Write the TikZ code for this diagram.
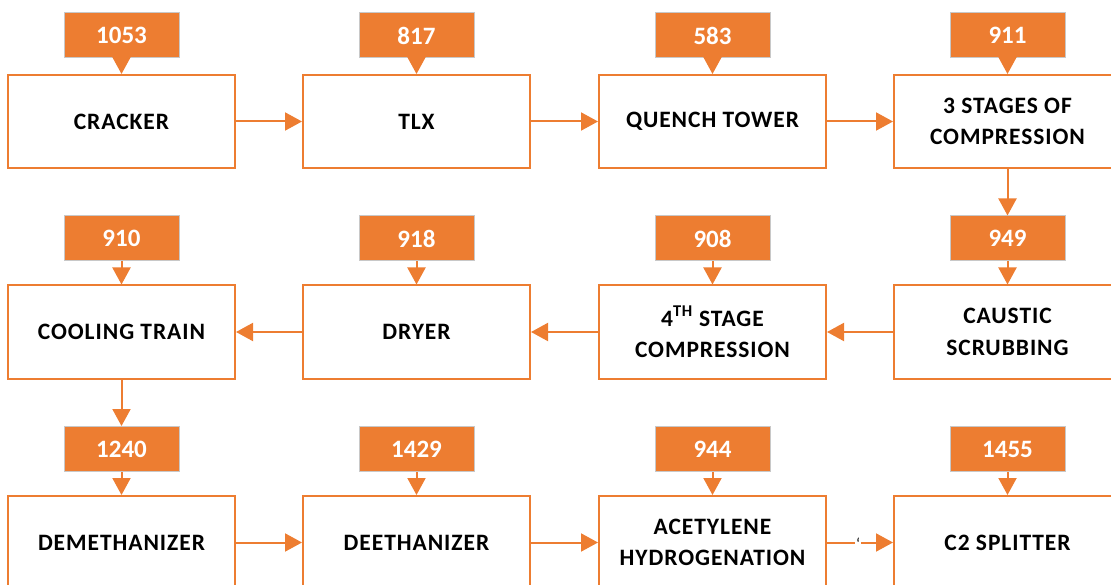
\documentclass[tikz,border=0pt]{standalone}
\usepackage{fontspec}
\setmainfont{Carlito}
\usetikzlibrary{arrows.meta}
\definecolor{org}{HTML}{ED7D31}
\definecolor{lblborder}{HTML}{C8C8C8}
\tikzset{
  proc/.style={draw=org, line width=2pt, fill=white, minimum width=227pt, minimum height=93pt,
     inner sep=0pt, align=center, font=\fontsize{23.5}{31.5}\selectfont\bfseries\addfontfeature{LetterSpace=4}},
  lbl/.style={draw=lblborder, line width=1pt, fill=org, minimum width=115pt, minimum height=45pt,
     inner sep=0pt, text=white, font=\fontsize{25}{28}\selectfont\bfseries},
  flow/.style={draw=org, line width=2pt, -{Triangle[width=18pt,length=17pt]}},
}
\begin{document}
\begin{tikzpicture}[x=1pt,y=-1pt]
\useasboundingbox (0,0) rectangle (1111,585);
\clip (0,0) rectangle (1111,585);
% row 1
\node[proc] (cracker) at (121.5,121.5) {CRACKER};
\node[proc] (tlx) at (416.5,121.5) {TLX};
\node[proc] (quench) at (712.5,121.5) {QUENCH TOWER};
\node[proc] (comp) at (1007.5,121.5) {3 STAGES OF\\COMPRESSION};
% row 2
\node[proc] (cooling) at (121.5,332) {COOLING TRAIN};
\node[proc] (dryer) at (416.5,332) {DRYER};
\node[proc] (fourth) at (712.5,332) {4\textsuperscript{TH} STAGE\\COMPRESSION};
\node[proc] (caustic) at (1007.5,332) {CAUSTIC\\SCRUBBING};
% row 3
\node[proc] (demeth) at (121.5,542.5) {DEMETHANIZER};
\node[proc] (deeth) at (416.5,542.5) {DEETHANIZER};
\node[proc] (acet) at (712.5,542.5) {ACETYLENE\\HYDROGENATION};
\node[proc] (c2) at (1007.5,542.5) {C2 SPLITTER};
% labels
\node[lbl] (l1) at (121.5,35.5) {1053};
\node[lbl] (l2) at (416.5,35.5) {817};
\node[lbl] (l3) at (712.5,35.5) {583};
\node[lbl] (l4) at (1007.5,35.5) {911};
\node[lbl] (l5) at (121.5,238.5) {910};
\node[lbl] (l6) at (416.5,238.5) {918};
\node[lbl] (l7) at (712.5,238.5) {908};
\node[lbl] (l8) at (1007.5,238.5) {949};
\node[lbl] (l9) at (121.5,449) {1240};
\node[lbl] (l10) at (416.5,449) {1429};
\node[lbl] (l11) at (712.5,449) {944};
\node[lbl] (l12) at (1007.5,449) {1455};
% label pointers
\foreach \l/\b in {l1/cracker,l2/tlx,l3/quench,l4/comp,l5/cooling,l6/dryer,l7/fourth,l8/caustic,l9/demeth,l10/deeth,l11/acet,l12/c2}
  \draw[flow] (\l.south) -- (\b.north);
% flow arrows
\draw[flow] (cracker.east) -- (tlx.west);
\draw[flow] (tlx.east) -- (quench.west);
\draw[flow] (quench.east) -- (comp.west);
\draw[flow] (comp.south) -- (l8.north);
\draw[flow] (caustic.west) -- (fourth.east);
\draw[flow] (fourth.west) -- (dryer.east);
\draw[flow] (dryer.west) -- (cooling.east);
\draw[flow] (cooling.south) -- (l9.north);
\draw[flow] (demeth.east) -- (deeth.west);
\draw[flow] (deeth.east) -- (acet.west);
\draw[flow] (acet.east) -- (c2.west);
\node[fill=white, inner xsep=1pt, inner ysep=2pt, font=\fontsize{16}{16}\selectfont] (tick) at (858,544) {`};
\end{tikzpicture}
\end{document}
